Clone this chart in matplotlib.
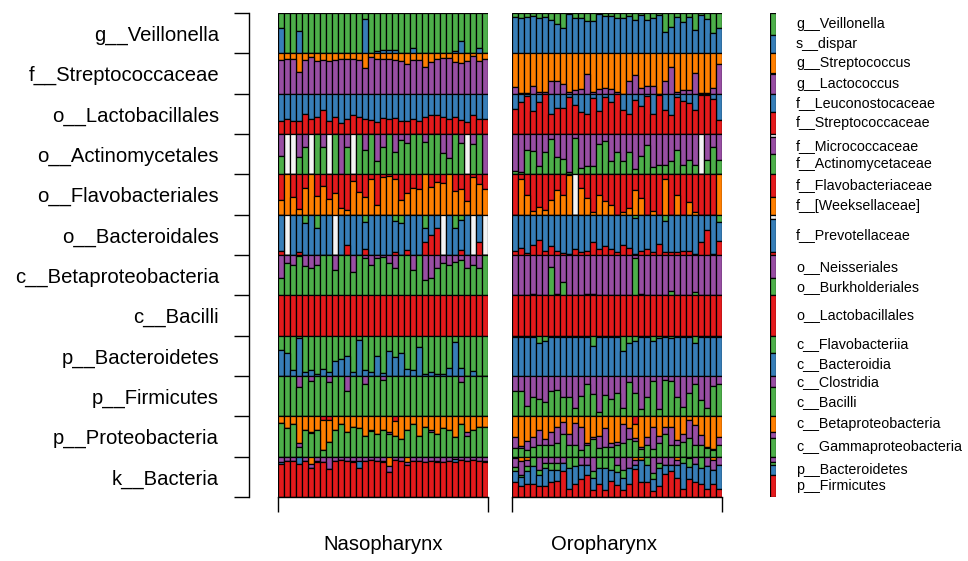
import numpy as np
import matplotlib.pyplot as plt

plt.rcParams['font.family'] = ['Liberation Sans', 'DejaVu Sans']

RED, BLUE, GREEN = '#E41A1C', '#377EB8', '#4DAF4A'
PURPLE, ORANGE, WHITE = '#984EA3', '#FF7F00', '#F4F4F4'

row_labels = ['g__Veillonella', 'f__Streptococcaceae', 'o__Lactobacillales',
              'o__Actinomycetales', 'o__Flavobacteriales', 'o__Bacteroidales',
              'c__Betaproteobacteria', 'c__Bacilli', 'p__Bacteroidetes',
              'p__Firmicutes', 'p__Proteobacteria', 'k__Bacteria']
panels = ['Nasopharynx', 'Oropharynx']
n_samples = 35

# ---- Nasopharynx (percent of each row, top segment first) ----
naso_veil_green = [38,100,100,45,100,100,100,100,100,100,100,100,100,100,15,100,94,92,92,92,
                   100,100,87,100,100,100,100,100,100,95,69,100,100,88,100]
naso_strep_orange = [17,13,15,47,17,9,20,17,20,17,15,15,15,17,37,9,15,13,13,17,
                     20,26,17,17,35,22,15,12,12,22,23,20,7,18,15]
naso_lacto_blue = [68,63,68,67,50,64,59,40,68,58,73,63,54,57,62,66,70,60,62,60,
                   68,68,64,68,57,54,52,58,63,59,66,70,52,62,62]
naso_actino_white = [0,100,100,0,0,100,0,0,100,0,0,0,100,0,0,0,0,0,0,0,
                     0,0,0,0,0,0,0,0,0,0,0,100,0,0,0]
naso_actino_purple = [54,0,0,58,33,0,0,33,0,0,100,33,0,0,40,0,66,33,0,44,
                      16,23,0,0,20,0,0,48,59,0,22,0,24,0,100]
naso_flavo_red = [63,0,55,86,34,0,54,28,61,46,83,88,17,44,57,11,75,7,5,11,
                  64,46,34,36,0,32,19,21,0,42,37,65,7,23,36]
naso_bactd_white = [0,100,0,0,0,0,0,0,0,100,0,0,0,0,0,0,0,0,0,0,
                    0,0,0,0,0,0,0,100,0,0,0,0,100,0,100]
naso_bactd_green = [0,0,0,0,20,0,33,0,0,0,0,0,0,0,17,0,0,0,0,15,
                    20,0,0,0,33,0,0,0,0,33,12,0,0,0,0]
naso_bactd_red = [10,0,0,7,0,0,0,0,0,0,0,24,0,0,16,0,0,0,0,7,
                  0,12,0,0,33,50,67,0,0,0,12,0,0,33,0]
naso_beta_purple = [58,19,25,2,28,33,25,0,0,38,0,0,43,0,7,25,7,5,21,31,
                    0,0,38,0,61,58,33,21,25,17,12,33,25,33,0]
naso_bacteroidetes_green = [36,43,86,6,89,86,94,83,91,63,59,50,89,11,86,89,50,92,38,52,
                            42,83,86,28,96,89,94,94,79,16,79,100,88,100,100]
naso_firm_purple = [0,0,0,28,0,12,0,0,14,0,0,37,0,0,20,0,0,10,0,0,
                    0,0,0,0,0,0,0,0,0,0,16,0,0,0,0]
naso_proteo_red = [0,0,0,0,0,0,0,8,10,0,0,0,0,0,0,0,0,0,0,12,
                   0,0,0,0,0,0,0,0,0,0,0,0,0,0,0]
naso_proteo_orange = [16,30,18,67,33,38,33,75,54,34,20,38,26,28,49,33,43,33,38,37,
                      57,33,20,49,26,34,44,30,33,52,18,38,33,26,26]
naso_proteo_purple = [0,0,0,8,0,4,0,0,0,0,0,0,0,0,0,4,0,0,6,0,
                      0,0,0,0,0,4,0,0,0,0,0,10,0,0,0]
naso_bact_orange = [0,0,0,0,0,17,0,0,0,0,0,0,0,0,0,0,0,0,22,0,
                    0,12,0,0,0,0,0,0,0,0,0,0,0,0,0]
naso_bact_purple = [12,10,10,0,10,12,10,12,30,10,8,10,10,10,10,8,10,10,15,8,
                    10,8,10,10,12,10,10,12,10,5,8,10,8,10,10]
naso_bact_blue = [5,0,0,18,0,0,3,0,0,0,0,0,3,19,0,0,0,3,0,0,
                  0,0,0,0,0,0,3,0,0,8,0,0,0,0,3]

# ---- Oropharynx ----
oro_veil_green = [9,12,10,8,13,10,17,28,38,3,13,13,20,20,3,8,8,13,13,8,
                  18,5,18,12,5,48,34,9,22,9,43,5,15,50,38]
oro_strep_orange = [83,98,98,80,95,95,68,68,76,95,90,88,51,95,88,87,88,95,100,68,
                    53,87,80,80,100,68,34,95,90,90,48,98,98,87,26]
oro_lacto_blue = [37,20,7,44,20,1,50,36,36,9,29,46,50,10,44,9,20,1,41,50,
                  15,31,7,50,3,40,54,9,17,24,41,3,3,13,66]
oro_actino_white = [0,0,0,0,0,0,0,0,0,0,0,0,0,0,0,0,0,0,0,0,
                    0,0,0,0,0,0,0,0,0,0,0,100,0,0,0]
oro_actino_purple = [92,94,40,42,80,44,13,58,61,93,11,84,79,79,24,18,68,44,68,44,
                     88,54,28,82,76,76,68,40,76,65,76,0,65,32,65]
oro_flavo_white = [0,0,0,0,0,0,0,0,0,0,100,0,0,0,0,0,0,0,0,0,
                   0,0,0,0,0,0,0,0,0,0,0,0,0,0,0]
oro_flavo_red = [100,11,51,90,82,88,63,38,51,1,0,34,58,93,51,67,76,100,94,84,
                 38,58,100,90,100,11,100,51,100,68,94,100,100,100,0]
oro_bactd_green = [0,0,0,0,0,0,0,0,0,0,0,0,0,0,0,0,0,0,0,0,
                   9,0,0,0,0,15,0,0,0,0,0,0,0,0,19]
oro_bactd_red = [10,18,4,26,36,11,23,11,4,2,16,7,10,33,16,23,15,7,24,18,
                 2,10,16,7,28,7,7,7,10,11,2,31,63,2,34]
oro_beta_purple = [98,98,98,97,98,98,29,97,67,98,98,98,97,97,98,98,98,98,98,98,
                   7,97,98,98,98,98,89,98,98,98,92,98,98,98,98]
oro_bacteroidetes_green = [3,3,3,3,19,14,3,3,3,3,3,3,3,25,3,3,3,3,38,17,
                           12,3,3,12,5,3,5,3,3,3,19,3,3,3,3]
oro_firm_purple = [37,37,74,53,57,65,38,35,51,53,79,49,19,45,90,46,57,41,79,15,
                   41,81,53,12,81,11,12,51,76,41,20,59,79,24,19]
oro_proteo_red = [0,0,0,0,0,0,0,0,0,0,0,0,0,0,0,0,0,0,0,0,
                  20,0,0,0,0,0,0,0,0,0,0,0,0,0,0]
oro_proteo_orange = [52,74,61,52,34,57,39,26,14,43,16,26,67,51,49,30,67,63,20,28,
                     34,75,51,26,49,26,26,59,43,10,22,47,75,80,52]
oro_proteo_purple = [27,5,23,23,37,14,33,41,29,29,55,57,4,4,30,47,8,8,47,27,
                     8,5,20,54,18,18,45,12,20,43,49,25,4,4,19]
oro_bact_orange = [3,10,8,2,2,2,2,2,2,2,2,2,2,2,2,2,2,2,2,2,
                   8,8,2,2,2,2,2,8,2,4,2,2,2,8,2]
oro_bact_purple = [22,35,14,0,31,14,14,14,14,0,0,18,18,33,0,0,0,18,31,25,
                   12,0,0,39,14,18,18,12,0,0,16,0,22,25,18]
oro_bact_green = [11,5,13,20,12,12,17,17,0,27,22,0,0,18,27,27,31,17,21,0,
                  0,0,18,14,12,0,0,0,14,21,0,27,0,0,0]
oro_bact_red = [38,28,33,33,28,28,38,39,64,21,33,44,54,17,33,17,39,29,17,33,
                69,36,36,14,28,58,64,46,21,44,36,33,21,33,21]

# None = remainder of the row
naso_rows = [
    [(GREEN, naso_veil_green), (BLUE, None)],
    [(ORANGE, naso_strep_orange), (PURPLE, None)],
    [(BLUE, naso_lacto_blue), (RED, None)],
    [(WHITE, naso_actino_white), (PURPLE, naso_actino_purple), (GREEN, None)],
    [(RED, naso_flavo_red), (ORANGE, None)],
    [(WHITE, naso_bactd_white), (GREEN, naso_bactd_green), (BLUE, None), (RED, naso_bactd_red)],
    [(PURPLE, naso_beta_purple), (GREEN, None)],
    [(RED, None)],
    [(GREEN, naso_bacteroidetes_green), (BLUE, None)],
    [(PURPLE, naso_firm_purple), (GREEN, None)],
    [(RED, naso_proteo_red), (ORANGE, naso_proteo_orange), (PURPLE, naso_proteo_purple), (GREEN, None)],
    [(ORANGE, naso_bact_orange), (PURPLE, naso_bact_purple), (BLUE, naso_bact_blue), (RED, None)],
]
oro_rows = [
    [(GREEN, oro_veil_green), (BLUE, None)],
    [(ORANGE, oro_strep_orange), (PURPLE, None)],
    [(BLUE, oro_lacto_blue), (RED, None)],
    [(WHITE, oro_actino_white), (PURPLE, oro_actino_purple), (GREEN, None)],
    [(WHITE, oro_flavo_white), (RED, oro_flavo_red), (ORANGE, None)],
    [(GREEN, oro_bactd_green), (BLUE, None), (RED, oro_bactd_red)],
    [(PURPLE, oro_beta_purple), (GREEN, None)],
    [(RED, None)],
    [(GREEN, oro_bacteroidetes_green), (BLUE, None)],
    [(PURPLE, oro_firm_purple), (GREEN, None)],
    [(RED, oro_proteo_red), (ORANGE, oro_proteo_orange), (PURPLE, oro_proteo_purple), (GREEN, None)],
    [(ORANGE, oro_bact_orange), (PURPLE, oro_bact_purple), (GREEN, oro_bact_green),
     (BLUE, None), (RED, oro_bact_red)],
]

# legend column: (colour, percent, label)
legend_rows = [
    [(GREEN, 55, 'g__Veillonella'), (BLUE, 45, 's__dispar')],
    [(ORANGE, 50, 'g__Streptococcus'), (PURPLE, 50, 'g__Lactococcus')],
    [(BLUE, 45, 'f__Leuconostocaceae'), (RED, 55, 'f__Streptococcaceae')],
    [(WHITE, 8, None), (PURPLE, 42, 'f__Micrococcaceae'), (GREEN, 50, 'f__Actinomycetaceae')],
    [(RED, 55, 'f__Flavobacteriaceae'), (ORANGE, 45, 'f__[Weeksellaceae]')],
    [(WHITE, 10, None), (BLUE, 82, 'f__Prevotellaceae'), (RED, 8, None)],
    [(PURPLE, 58, 'o__Neisseriales'), (GREEN, 42, 'o__Burkholderiales')],
    [(RED, 100, 'o__Lactobacillales')],
    [(GREEN, 42, 'c__Flavobacteriia'), (BLUE, 58, 'c__Bacteroidia')],
    [(PURPLE, 28, 'c__Clostridia'), (GREEN, 72, 'c__Bacilli')],
    [(ORANGE, 40, 'c__Betaproteobacteria'), (PURPLE, 14, None), (GREEN, 46, 'c__Gammaproteobacteria')],
    [(PURPLE, 12, None), (GREEN, 8, None), (BLUE, 25, 'p__Bacteroidetes'), (RED, 55, 'p__Firmicutes')],
]

W, H = 968, 561
fig = plt.figure(figsize=(W / 100, H / 100), dpi=100)
PX = 72 / 100  # points per pixel


def px_axes(left, top, right, bottom):
    return fig.add_axes([left / W, 1 - bottom / H, (right - left) / W, (bottom - top) / H])


def draw_panel(ax, rows):
    x = np.arange(n_samples)
    for r, segs in enumerate(rows):
        known = [np.array(v, float) for c, v in segs if v is not None]
        rest = np.clip(100 - sum(known), 0, None) if known else np.full(n_samples, 100.0)
        cum = np.zeros(n_samples)
        for color, vals in segs:
            h = (rest if vals is None else np.array(vals, float)) / 100
            ax.bar(x, h, bottom=r + cum, width=1, align='edge', color=color,
                   edgecolor='black', linewidth=0.9)
            cum += h
    ax.set_xlim(0, n_samples)
    ax.set_ylim(len(rows), 0)
    for s in ['top', 'right', 'left']:
        ax.spines[s].set_visible(False)
    ax.spines['bottom'].set_linewidth(1.0)
    ax.set_xticks([0, n_samples])
    ax.set_xticklabels([])
    ax.set_yticks([])
    ax.tick_params(axis='x', length=15 * PX, width=1.0, direction='out')


ax_n = px_axes(278, 13, 488, 497)
draw_panel(ax_n, naso_rows)
ax_o = px_axes(512, 13, 722, 497)
draw_panel(ax_o, oro_rows)

ax_n.annotate(panels[0], xy=(0.5, 0), xycoords='axes fraction', xytext=(0, -53 * PX),
              textcoords='offset points', ha='center', va='baseline', fontsize=14.6)
ax_o.annotate(panels[1], xy=(0.438, 0), xycoords='axes fraction', xytext=(0, -53 * PX),
              textcoords='offset points', ha='center', va='baseline', fontsize=14.6)

# left axis with row labels
ax_l = px_axes(249, 13, 250, 497)
ax_l.set_ylim(len(row_labels), 0)
ax_l.set_xticks([])
for s in ['top', 'right', 'bottom']:
    ax_l.spines[s].set_visible(False)
ax_l.spines['left'].set_linewidth(1.0)
ax_l.set_yticks(np.arange(len(row_labels) + 1))
ax_l.set_yticklabels([])
ax_l.set_yticks(np.arange(len(row_labels)) + 0.5, minor=True)
ax_l.set_yticklabels(row_labels, minor=True, fontsize=14.6)
ax_l.tick_params(axis='y', which='major', length=15 * PX, width=1.0)
ax_l.tick_params(axis='y', which='minor', length=0, pad=30 * PX)

# legend column
ax_g = px_axes(770, 13, 776, 497)
for r, segs in enumerate(legend_rows):
    cum = 0.0
    for color, pct, lab in segs:
        h = pct / 100
        ax_g.bar(0, h, bottom=r + cum, width=1, align='edge', color=color,
                 edgecolor='black', linewidth=0.9)
        if lab:
            ax_g.annotate(lab, xy=(1, r + cum + h / 2), xytext=(20 * PX, 0),
                          textcoords='offset points', va='center', ha='left', fontsize=10.3)
        cum += h
ax_g.set_xlim(0, 1)
ax_g.set_ylim(len(legend_rows), 0)
ax_g.axis('off')

fig.savefig('out.png', dpi=100)
